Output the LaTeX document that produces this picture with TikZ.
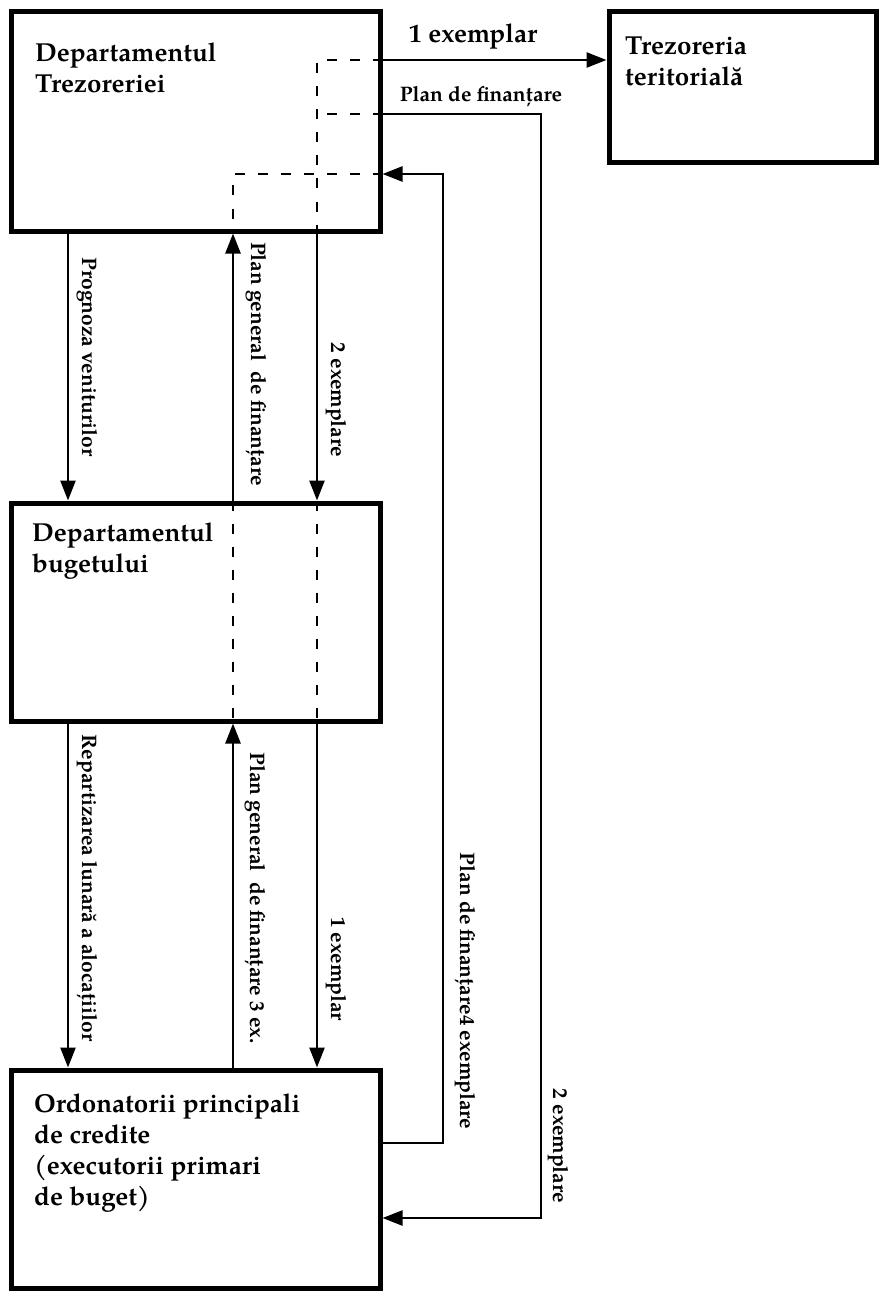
\documentclass[tikz,border=0pt]{standalone}
\usepackage{fontspec}
\setmainfont{TeX Gyre Pagella}
\usetikzlibrary{arrows.meta}
\begin{document}
\begin{tikzpicture}[x=1pt,y=-1pt,
  box/.style={draw, line width=5pt, inner sep=0pt},
  title/.style={font=\fontsize{26}{31}\selectfont\bfseries, align=left, anchor=base west, inner sep=0pt},
  lab/.style={font=\fontsize{21}{25}\selectfont\bfseries, inner sep=0pt, anchor=base},
  vlab/.style={lab, rotate=-90},
  flow/.style={line width=2.5pt, -{Triangle[length=20pt,width=15pt]}},
  hidden/.style={line width=2.5pt, dash pattern=on 10pt off 13pt}]
\useasboundingbox (0,0) rectangle (880,1292);

% boxes
\node[box, minimum width=369pt, minimum height=219pt] (A) at (195.5,121.5) {};
\node[box, minimum width=267pt, minimum height=151pt] (T) at (742.5,87.5) {};
\node[box, minimum width=369pt, minimum height=218pt] (B) at (195.5,612) {};
\node[box, minimum width=369pt, minimum height=218pt] (C) at (195.5,1179) {};

% box titles (anchored on the baseline of their last line)
\node[title] (tA) at (35,93) {Departamentul\\Trezoreriei};
\node[title] (tT) at (625,86) {Trezoreria\\teritorială};
\node[title] (tB) at (32,572) {Departamentul\\bugetului};
\node[title] (tC) at (34,1205) {Ordonatorii principali\\de credite\\(executorii primari\\de buget)};

% columns and rows of the routing grid
\coordinate (c1) at (68,0);
\coordinate (c2) at (233,0);
\coordinate (c3) at (317,0);
\coordinate (c4) at (443,0);
\coordinate (c5) at (541,0);
\coordinate (r1) at (0,60);
\coordinate (r2) at (0,114);
\coordinate (r3) at (0,174);
\coordinate (s1) at (0,1143);
\coordinate (s2) at (0,1218);

% dashed runs inside the boxes
\draw[hidden] (A.east |- r1) -- (c3 |- r1) -- (A.south -| c3);
\draw[hidden] (A.east |- r2) -- (c3 |- r2);
\draw[hidden] (A.east |- r3) -- (c2 |- r3) -- (A.south -| c2);
\draw[hidden] (B.north -| c2) -- (B.south -| c2);
\draw[hidden] (B.north -| c3) -- (B.south -| c3);

% connectors between the boxes
\draw[flow] (A.south -| c1) -- (B.north -| c1);
\draw[flow] (B.north -| c2) -- (A.south -| c2);
\draw[flow] (A.south -| c3) -- (B.north -| c3);
\draw[flow] (B.south -| c1) -- (C.north -| c1);
\draw[flow] (C.north -| c2) -- (B.south -| c2);
\draw[flow] (B.south -| c3) -- (C.north -| c3);
\draw[flow] (A.east |- r1) -- (T.west |- r1);
\draw[flow] (A.east |- r2) -| (c5 |- s2) -- (C.east |- s2);
\draw[flow] (C.east |- s1) -| (c4 |- r3) -- (A.east |- r3);

% connector labels
\node[lab, font=\fontsize{26}{31}\selectfont\bfseries] (l1) at (473,43) {1 exemplar};
\node[lab] (l2) at (481,102) {Plan de finanțare};
\node[vlab] (l3) at (82,357) {Prognoza veniturilor};
\node[vlab] (l4) at (251,364) {Plan general\ \ de finanțare};
\node[vlab] (l5) at (331,400) {2 exemplare};
\node[vlab] (l6) at (82,888) {Repartizarea lunară a alocațiilor};
\node[vlab] (l7) at (250,898) {Plan general\ \ de finanțare 3 ex.};
\node[vlab] (l8) at (331,969) {1 exemplar};
\node[vlab] (l9) at (460,991) {Plan de finanțare4 exemplare};
\node[vlab] (l10) at (553,1146) {2 exemplare};
\end{tikzpicture}
\end{document}
